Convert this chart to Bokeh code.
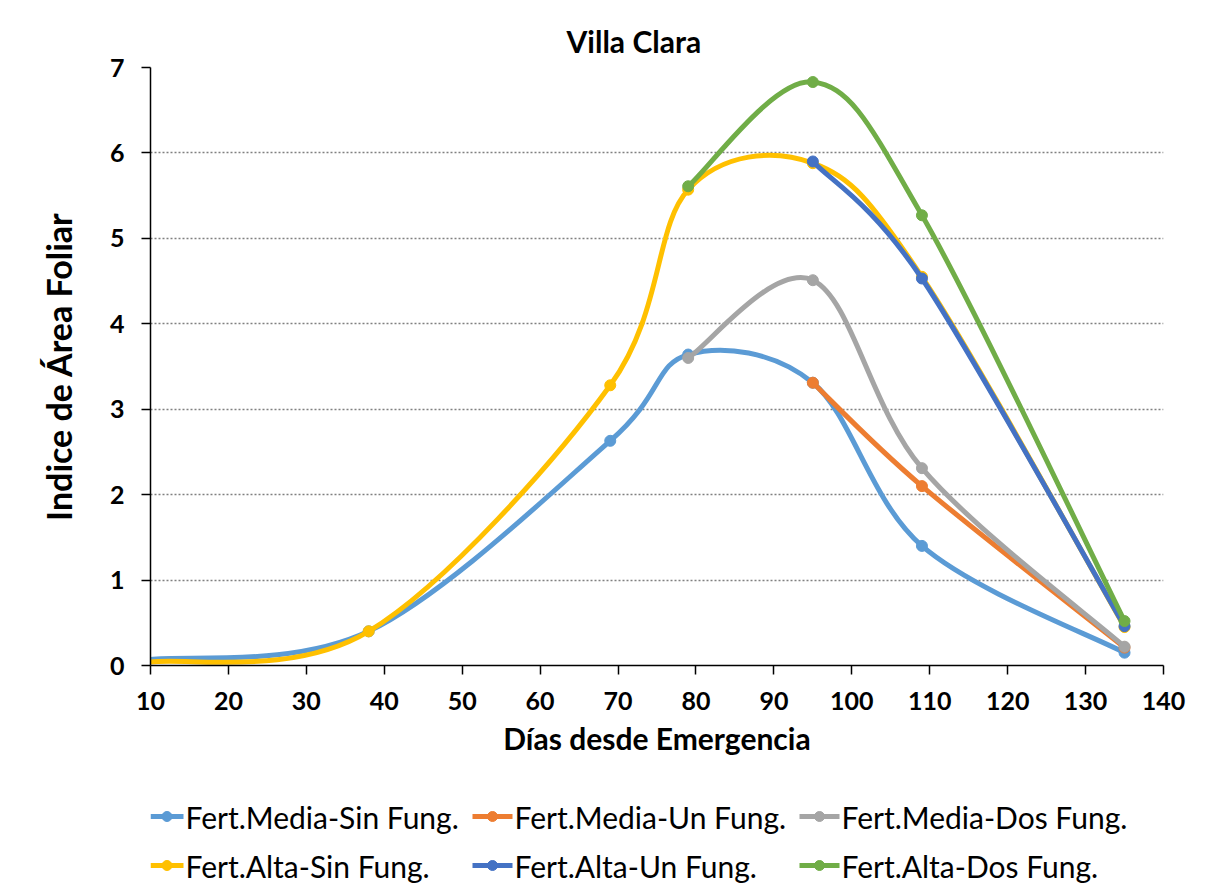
import numpy as np
from bokeh.plotting import figure
from bokeh.layouts import column
from bokeh.models import Range1d, FixedTicker
from bokeh.core.properties import value
from bokeh.embed import file_html
from bokeh.resources import INLINE

# ---------------- data ----------------
titulo = "Villa Clara"
eje_x = "Días desde Emergencia"
eje_y = "Indice de Área Foliar"

x_ticks = [10, 20, 30, 40, 50, 60, 70, 80, 90, 100, 110, 120, 130, 140]
y_ticks = [0, 1, 2, 3, 4, 5, 6, 7]

dias_sin = [10, 38, 69, 79, 95, 109, 135]
dias_un = [95, 109, 135]
dias_dos = [79, 95, 109, 135]

media_sin = [0.07, 0.40, 2.63, 3.64, 3.31, 1.40, 0.15]
media_un = [3.31, 2.10, 0.21]
media_dos = [3.60, 4.51, 2.31, 0.22]
alta_sin = [0.04, 0.40, 3.28, 5.57, 5.88, 4.55, 0.45]
alta_un = [5.90, 4.53, 0.46]
alta_dos = [5.61, 6.83, 5.27, 0.52]

nombres = ["Fert.Media-Sin Fung.", "Fert.Media-Un Fung.", "Fert.Media-Dos Fung.",
           "Fert.Alta-Sin Fung.", "Fert.Alta-Un Fung.", "Fert.Alta-Dos Fung."]
colores = ["#5B9BD5", "#ED7D31", "#A5A5A5", "#FFC000", "#4472C4", "#70AD47"]
series_x = [dias_sin, dias_un, dias_dos, dias_sin, dias_un, dias_dos]
series_y = [media_sin, media_un, media_dos, alta_sin, alta_un, alta_dos]


def smooth_segments(xs, ys):
    """Bezier control points (Catmull-Rom style, like a spreadsheet's smoothed line)."""
    P = np.column_stack([np.asarray(xs, float), np.asarray(ys, float)])
    n = len(P)
    seg = {k: [] for k in ["x0", "y0", "x1", "y1", "cx0", "cy0", "cx1", "cy1"]}
    for i in range(n - 1):
        p0 = P[i - 1] if i > 0 else P[i]
        p1 = P[i]
        p2 = P[i + 1]
        p3 = P[i + 2] if i + 2 < n else P[i + 1]
        c1 = p1 + (p2 - p0) / 6.0
        c2 = p2 - (p3 - p1) / 6.0
        seg["x0"].append(p1[0]); seg["y0"].append(p1[1])
        seg["x1"].append(p2[0]); seg["y1"].append(p2[1])
        seg["cx0"].append(c1[0]); seg["cy0"].append(c1[1])
        seg["cx1"].append(c2[0]); seg["cy1"].append(c2[1])
    return seg


FONT = "Lato"
W = 1229
H_MAIN, H_LEG = 780, 115
BL, BR = 150, 66
p = figure(width=W, height=H_MAIN, output_backend="svg", toolbar_location=None,
           x_range=Range1d(10, 140), y_range=Range1d(0, 7),
           min_border_left=BL, min_border_right=BR, min_border_top=67,
           min_border_bottom=115)
p.outline_line_color = None
p.background_fill_color = "white"
p.border_fill_color = "white"

# title
p.title.text = titulo
p.title.align = "left"
p.title.offset = 416
p.title.standoff = 18
p.title.text_font = FONT
p.title.text_font_size = "30px"
p.title.text_font_style = "bold"
p.title.text_color = "black"

# axes
for ax in (p.xaxis[0], p.yaxis[0]):
    ax.major_tick_out = 9
    ax.major_tick_in = 0
    ax.minor_tick_line_color = None
    ax.axis_line_color = "black"
    ax.axis_line_width = 1.5
    ax.major_tick_line_color = "black"
    ax.major_tick_line_width = 1.5
    ax.major_label_text_font = FONT
    ax.major_label_text_font_style = "bold"
    ax.major_label_text_font_size = "25px"
    ax.major_label_text_color = "black"
    ax.axis_label_text_font = FONT
    ax.axis_label_text_font_style = "bold"
    ax.axis_label_text_color = "black"

p.xaxis.ticker = FixedTicker(ticks=x_ticks)
p.yaxis.ticker = FixedTicker(ticks=y_ticks)
p.xaxis.axis_label = eje_x
p.yaxis.axis_label = eje_y
p.xaxis.axis_label_text_font_size = "30px"
p.yaxis.axis_label_text_font_size = "34px"
p.xaxis.major_label_standoff = 17
p.yaxis.major_label_standoff = 17
p.xaxis.axis_label_standoff = 7
p.yaxis.axis_label_standoff = 28

p.xgrid.grid_line_color = None
p.ygrid.grid_line_color = "#808080"
p.ygrid.grid_line_dash = "2 2"
p.ygrid.grid_line_width = 1.3

for nombre, col, xs, ys in zip(nombres, colores, series_x, series_y):
    seg = smooth_segments(xs, ys)
    p.bezier(line_color=col, line_width=5, line_cap="round", **seg)
    px = xs[1:] if xs[0] == 10 else xs
    py = ys[1:] if xs[0] == 10 else ys
    p.scatter(px, py, marker="circle", size=11, fill_color=col, line_color=col)

# ---------------- legend strip (separate figure, frame aligned with the chart's) ----------------
leg = figure(width=W, height=H_LEG, output_backend="svg", toolbar_location=None,
             x_range=Range1d(BL, W - BR), y_range=Range1d(0, H_LEG),
             x_axis_location=None, y_axis_location=None,
             min_border_left=BL, min_border_right=BR,
             min_border_top=0, min_border_bottom=0)
leg.outline_line_color = None
leg.xgrid.visible = False
leg.ygrid.visible = False
leg.background_fill_color = "white"
leg.border_fill_color = "white"

col_line_start = [150, 472, 799]
col_line_end = [183, 512, 839]
row_mid = [79, 30]
lx0, lx1, ly, mx, tx = [], [], [], [], []
for i in range(len(nombres)):
    c, r = i % 3, i // 3
    lx0.append(col_line_start[c])
    lx1.append(col_line_end[c])
    ly.append(row_mid[r])
    mx.append((col_line_start[c] + col_line_end[c]) / 2)
    tx.append(col_line_end[c] + 2)

leg.segment(x0=lx0, y0=ly, x1=lx1, y1=ly, line_color=colores, line_width=5)
leg.scatter(x=mx, y=ly, marker="circle", size=10, fill_color=colores, line_color=colores)
leg.text(x=tx, y=ly, text=nombres, text_font=value(FONT), text_font_size="30px",
         text_color="black", text_baseline="middle", text_align="left")

layout = column(p, leg, spacing=0)
open("out.html", "w").write(file_html(layout, INLINE))
